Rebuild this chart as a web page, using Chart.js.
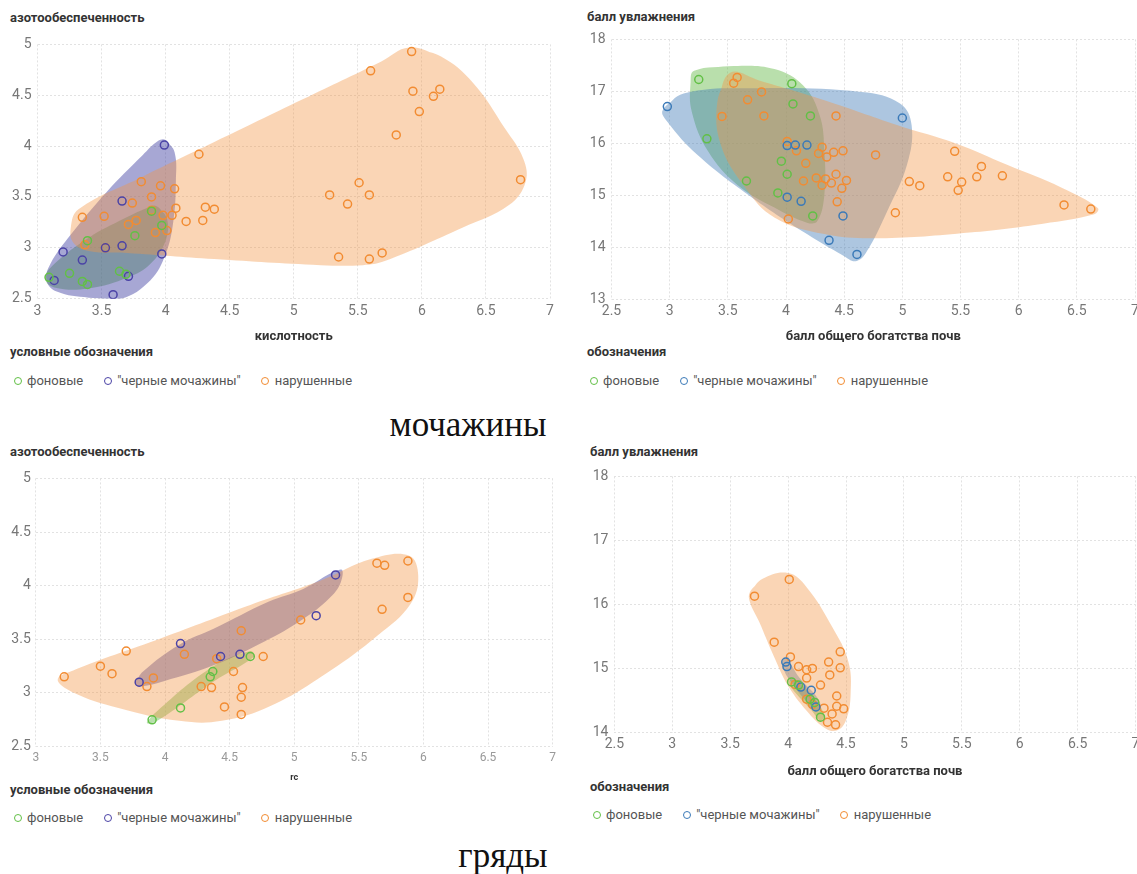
<!DOCTYPE html>
<html>
<head>
<meta charset="utf-8">
<script src="https://cdn.jsdelivr.net/npm/chart.js@4.4.0/dist/chart.umd.min.js"></script>
<style>
  html, body { margin: 0; padding: 0; overflow: hidden; }
  body { width: 1137px; height: 874px; position: relative; background: #fff; font-family: Roboto, sans-serif; }
  canvas { position: absolute; }
  .ytitle, .lgtitle { position: absolute; font: bold 13px Roboto, sans-serif; color: #333; line-height: 16px; white-space: nowrap; }
  .legend { position: absolute; display: flex; align-items: center; font: 13px Roboto, sans-serif; color: #555; white-space: nowrap; line-height: 16px; }
  .legend .item { display: flex; align-items: center; margin-right: 20.5px; }
  .legend .dot { display: inline-block; width: 6px; height: 6px; border: 1.5px solid; border-radius: 50%; margin-right: 5.5px; }
  .head { position: absolute; font: 35px "Liberation Serif", serif; color: #111; transform: translate(-50%, -50%); white-space: nowrap; }
</style>
</head>
<body>
<div class="ytitle" style="left:10px;top:10px">азотообеспеченность</div>
<div class="ytitle" style="left:587px;top:9px">балл увлажнения</div>
<div class="ytitle" style="left:10px;top:444px">азотообеспеченность</div>
<div class="ytitle" style="left:590px;top:444px">балл увлажнения</div>

<div class="lgtitle" style="left:10px;top:344px">условные обозначения</div>
<div class="lgtitle" style="left:587px;top:344px">обозначения</div>
<div class="lgtitle" style="left:10px;top:782px">условные обозначения</div>
<div class="lgtitle" style="left:590px;top:779px">обозначения</div>

<div class="legend" id="lg1" style="left:13.5px;top:373px"></div>
<div class="legend" id="lg2" style="left:589.5px;top:373px"></div>
<div class="legend" id="lg3" style="left:13.5px;top:810px"></div>
<div class="legend" id="lg4" style="left:592.5px;top:807px"></div>

<div class="head" style="left:468px;top:425px">мочажины</div>
<div class="head" style="left:503px;top:856px">гряды</div>

<script>
const groupNames = ['фоновые', '"черные мочажины"', 'нарушенные'];
const leftColors = ['#62c046', '#4b43a6', '#f28c32'];
const rightColors = ['#62c046', '#3b7ab8', '#f28c32'];
const leftFills = ['rgba(100,185,70,0.45)', 'rgba(60,60,160,0.45)', 'rgba(242,150,70,0.4)'];
const rightFills = ['rgba(100,185,70,0.45)', 'rgba(60,120,180,0.42)', 'rgba(242,150,70,0.4)'];

// мочажины: кислотность / азотообеспеченность
const bogN_green = [[3.89,3.36],[3.97,3.22],[3.76,3.12],[3.39,3.07],[3.25,2.75],[3.09,2.71],[3.35,2.67],[3.39,2.64],[3.64,2.77],[3.69,2.74]];
const bogN_black = [[3.99,4.01],[3.66,3.46],[3.53,3.00],[3.66,3.02],[3.20,2.96],[3.35,2.88],[3.97,2.94],[3.71,2.72],[3.13,2.68],[3.59,2.54]];
const bogN_broken = [[5.92,4.93],[5.60,4.74],[5.93,4.54],[6.14,4.56],[6.09,4.49],[5.98,4.34],[5.80,4.11],[6.77,3.67],[5.51,3.64],[5.28,3.52],
  [5.59,3.52],[5.42,3.43],[5.35,2.91],[5.59,2.89],[5.69,2.95],[4.26,3.92],[4.31,3.40],[4.38,3.38],[4.16,3.26],[4.29,3.27],
  [4.07,3.58],[4.08,3.39],[4.05,3.32],[3.96,3.61],[3.81,3.65],[3.89,3.50],[3.74,3.44],[3.98,3.32],[4.01,3.17],[3.92,3.15],
  [3.77,3.27],[3.71,3.23],[3.89,3.37],[3.52,3.31],[3.35,3.30],[3.37,3.03],[3.53,3.00]];
const bogN_hullGreen = [[3.93,3.41],[4.01,3.29],[4.00,3.07],[3.88,2.84],[3.71,2.71],[3.40,2.60],[3.13,2.61],[3.06,2.70],[3.13,2.84],[3.40,3.10],[3.68,3.29],[3.85,3.39]];
const bogN_hullBlack = [[4.00,4.06],[4.07,3.94],[4.08,3.65],[4.06,3.26],[4.00,2.94],[3.88,2.68],[3.65,2.50],[3.40,2.51],[3.15,2.57],[3.07,2.68],[3.10,2.84],[3.26,3.13],[3.54,3.55],[3.82,3.91],[3.94,4.05]];
const bogN_hullBroken = [[5.90,4.97],[6.15,4.88],[6.40,4.62],[6.65,4.17],[6.79,3.88],[6.81,3.65],[6.68,3.42],[6.32,3.20],[5.71,2.87],[5.54,2.83],[5.21,2.83],
  [4.38,2.89],[3.70,2.95],[3.40,2.97],[3.28,3.05],[3.26,3.20],[3.32,3.38],[3.82,3.70],[4.38,4.04],[5.07,4.46],[5.68,4.83]];

// мочажины: балл общего богатства почв / балл увлажнения
const bogM_green = [[3.25,17.23],[4.05,17.15],[4.06,16.76],[4.21,16.53],[3.32,16.09],[3.96,15.66],[4.01,15.41],[3.66,15.28],[3.93,15.05],[4.23,14.61]];
const bogM_black = [[2.98,16.71],[5.00,16.49],[4.01,15.96],[4.08,15.97],[4.18,15.97],[4.01,14.97],[4.13,14.89],[4.49,14.61],[4.37,14.14],[4.61,13.87]];
const bogM_broken = [[3.58,17.27],[3.55,17.16],[3.79,16.99],[3.67,16.84],[3.45,16.52],[3.81,16.53],[4.43,16.53],[4.01,16.04],[4.09,15.86],[4.31,15.93],
  [4.28,15.81],[4.35,15.74],[4.41,15.83],[4.49,15.86],[4.17,15.62],[4.77,15.78],[5.45,15.85],[5.68,15.56],[5.86,15.38],[5.39,15.36],
  [5.64,15.36],[5.51,15.26],[5.48,15.10],[5.06,15.27],[5.15,15.19],[4.26,15.34],[4.34,15.32],[4.43,15.41],[4.39,15.24],[4.15,15.28],
  [4.31,15.20],[4.52,15.29],[4.48,15.14],[4.44,14.88],[4.94,14.67],[4.02,14.55],[6.39,14.82],[6.62,14.74]];
const bogM_hullGreen = [[3.21,17.40],[3.55,17.49],[3.90,17.43],[4.15,17.11],[4.29,16.54],[4.33,15.85],[4.33,15.02],[4.27,14.51],[4.18,14.48],[3.90,14.77],[3.58,15.21],[3.33,15.85],[3.19,16.61],[3.18,17.18]];
const bogM_hullBlack = [[2.94,16.64],[3.12,16.96],[3.71,17.06],[4.65,16.99],[4.98,16.77],[5.08,16.35],[5.04,15.59],[4.87,14.70],[4.69,13.91],[4.60,13.74],[4.49,13.85],[4.18,14.26],[3.71,14.96],[3.24,15.78],[2.98,16.42]];
const bogM_hullBroken = [[3.52,17.36],[3.41,16.80],[3.44,15.97],[3.65,15.15],[3.90,14.58],[4.33,14.26],[4.80,14.18],[5.58,14.29],[6.21,14.46],[6.65,14.64],[6.68,14.76],
  [6.37,15.15],[5.90,15.59],[5.46,16.00],[4.96,16.35],[4.33,16.83],[3.77,17.21]];

// гряды: rc / азотообеспеченность
const ridgeN_green = [[3.90,2.75],[4.12,2.86],[4.35,3.15],[4.37,3.20],[4.66,3.34]];
const ridgeN_black = [[3.80,3.10],[4.12,3.46],[4.43,3.34],[4.58,3.36],[5.17,3.72],[5.32,4.10]];
const ridgeN_broken = [[3.22,3.15],[3.50,3.25],[3.59,3.18],[3.70,3.39],[3.86,3.06],[3.91,3.14],[4.15,3.36],[4.28,3.06],[4.36,3.05],[4.40,3.32],
  [4.53,3.20],[4.46,2.87],[4.59,3.58],[4.60,3.05],[4.59,2.96],[4.59,2.80],[4.76,3.34],[5.05,3.68],[5.64,4.21],[5.70,4.19],
  [5.88,4.23],[5.88,3.89],[5.68,3.78]];
const ridgeN_hullGreen = [[3.86,2.72],[3.91,2.80],[4.35,3.23],[4.66,3.39],[4.69,3.34],[4.38,3.11],[3.94,2.74]];
const ridgeN_hullBlack = [[3.77,3.09],[3.83,3.20],[4.11,3.45],[4.38,3.60],[4.80,3.85],[5.07,3.97],[5.36,4.15],[5.36,4.03],[5.27,3.88],[5.07,3.69],[4.77,3.48],[4.38,3.26],[3.99,3.11],[3.80,3.06]];
const ridgeN_hullBroken = [[3.17,3.13],[3.33,3.23],[3.97,3.51],[4.66,3.82],[5.21,4.05],[5.60,4.25],[5.89,4.28],[5.96,4.09],[5.90,3.83],[5.65,3.54],[5.27,3.20],[4.82,2.88],[4.44,2.74],[4.11,2.74],[3.64,2.86],[3.28,3.01]];

// гряды: балл общего богатства почв / балл увлажнения
const ridgeM_green = [[4.03,14.79],[4.09,14.74],[4.19,14.52],[4.23,14.47],[4.28,14.24]];
const ridgeM_black = [[3.98,15.10],[3.99,15.03],[4.11,14.71],[4.20,14.66],[4.24,14.40]];
const ridgeM_broken = [[3.71,16.13],[4.01,16.39],[3.88,15.41],[4.02,15.18],[4.45,15.26],[4.09,15.03],[4.16,14.98],[4.21,15.00],[4.35,15.10],[4.45,15.01],
  [4.36,14.90],[4.16,14.85],[4.28,14.74],[4.42,14.57],[4.42,14.41],[4.48,14.37],[4.31,14.38],[4.38,14.29],[4.34,14.16],[4.41,14.12],
  [4.06,14.75],[4.16,14.52],[4.21,14.44]];
const ridgeM_hullGreen = [[4.02,14.83],[4.08,14.80],[4.22,14.55],[4.31,14.28],[4.28,14.18],[4.20,14.35],[4.05,14.65],[4.01,14.76]];
const ridgeM_hullBlack = [[3.96,15.15],[4.00,15.12],[4.10,14.85],[4.25,14.55],[4.28,14.40],[4.24,14.33],[4.15,14.50],[4.02,14.80],[3.96,15.00]];
const ridgeM_hullBroken = [[3.67,16.19],[3.78,16.40],[4.00,16.49],[4.16,16.27],[4.38,15.65],[4.52,15.11],[4.54,14.60],[4.50,14.19],[4.42,14.03],[4.31,14.08],[4.16,14.34],[4.00,14.73],[3.87,15.22],[3.75,15.73],[3.67,16.04]];

const toXY = arr => arr.map(([x, y]) => ({ x, y }));
const tickText = v => String(Math.round(v * 10) / 10);

function makePanel(p) {
  const cv = document.createElement("canvas");
  cv.width = p.box[2];
  cv.height = p.box[3];
  cv.style.left = p.box[0] + "px";
  cv.style.top = p.box[1] + "px";
  document.body.appendChild(cv);

  const datasets = [];
  p.points.forEach((pts, i) => {
    datasets.push({
      label: groupNames[i],
      data: toXY(pts),
      order: 0,
      borderColor: p.colors[i],
      backgroundColor: "rgba(0,0,0,0)",
      pointRadius: 4,
      pointHoverRadius: 4,
      pointBorderWidth: 1.5,
    });
  });
  p.hulls.forEach((h, i) => {
    datasets.push({
      type: "line",
      label: "hull",
      data: toXY(h.concat([h[0], h[1]])),
      order: 3 - i,
      fill: "shape",
      backgroundColor: p.fills[i],
      borderColor: "rgba(0,0,0,0)",
      borderWidth: 0,
      pointRadius: 0,
      pointHoverRadius: 0,
      tension: 0.4,
    });
  });

  new Chart(cv, {
    type: "scatter",
    data: { datasets },
    options: {
      responsive: false,
      animation: false,
      devicePixelRatio: 1,
      layout: { autoPadding: false, padding: p.pad },
      plugins: { legend: { display: false }, tooltip: { enabled: false } },
      scales: {
        x: {
          type: "linear",
          min: p.xr[0], max: p.xr[1],
          ticks: { stepSize: 0.5, padding: p.xpad, callback: tickText,
                   color: p.xtickColor || "#777", font: { family: "Roboto", size: p.xtickSize || 14 } },
          grid: { color: "#e2e2e2", drawTicks: false },
          border: { display: false, dash: [2, 2] },
          title: { display: true, text: p.xtitle, color: "#333", padding: 0,
                   font: { family: "Roboto", size: p.xtitleSize || 13, weight: "bold" } },
          afterFit: (s) => { s.height = p.xh; },
        },
        y: {
          type: "linear",
          min: p.yr[0], max: p.yr[1],
          ticks: { stepSize: p.ystep, padding: p.ypad, callback: tickText,
                   color: "#777", font: { family: "Roboto", size: 14 } },
          grid: { color: "#e2e2e2", drawTicks: false },
          border: { display: false, dash: [2, 2] },
          afterFit: (s) => { s.width = p.yw; },
        },
      },
    },
  });

  const lg = document.getElementById(p.legend);
  groupNames.forEach((name, i) => {
    const item = document.createElement("span");
    item.className = "item";
    item.innerHTML = '<span class="dot" style="border-color:' + p.colors[i] + '"></span>' + name;
    lg.appendChild(item);
  });
}

makePanel({
  box: [0, 30, 560, 315], pad: { top: 11, right: 10, left: 0, bottom: 0 },
  xr: [3, 7], yr: [2.5, 5], ystep: 0.5, yw: 37.5, xh: 46.3, xpad: 4, ypad: 6,
  xtitle: "кислотность", legend: "lg1", colors: leftColors, fills: leftFills,
  points: [bogN_green, bogN_black, bogN_broken],
  hulls: [bogN_hullGreen, bogN_hullBlack, bogN_hullBroken],
});

makePanel({
  box: [570, 25, 580, 320], pad: { top: 11.8, right: 15, left: 0, bottom: 0 },
  xr: [2.5, 7], yr: [13, 18], ystep: 1, yw: 41.5, xh: 45.3, xpad: 3, ypad: 6,
  xtitle: "балл общего богатства почв", legend: "lg2", colors: rightColors, fills: rightFills,
  points: [bogM_green, bogM_black, bogM_broken],
  hulls: [bogM_hullGreen, bogM_hullBlack, bogM_hullBroken],
});

makePanel({
  box: [0, 465, 560, 318], pad: { top: 10, right: 5.5, left: 0, bottom: 0 },
  xr: [3, 7], yr: [2.5, 5], ystep: 0.5, yw: 35.8, xh: 36.4, xpad: 4, ypad: 5,
  xtickSize: 12, xtickColor: "#999", xtitleSize: 9,
  xtitle: "rc", legend: "lg3", colors: leftColors, fills: leftFills,
  points: [ridgeN_green, ridgeN_black, ridgeN_broken],
  hulls: [ridgeN_hullGreen, ridgeN_hullBlack, ridgeN_hullBroken],
});

makePanel({
  box: [570, 462, 580, 318], pad: { top: 10.3, right: 14.5, left: 0, bottom: 0 },
  xr: [2.5, 7], yr: [14, 18], ystep: 1, yw: 44.4, xh: 47.5, xpad: 4, ypad: 6,
  xtitle: "балл общего богатства почв", legend: "lg4", colors: rightColors, fills: rightFills,
  points: [ridgeM_green, ridgeM_black, ridgeM_broken],
  hulls: [ridgeM_hullGreen, ridgeM_hullBlack, ridgeM_hullBroken],
});
</script>
</body>
</html>
